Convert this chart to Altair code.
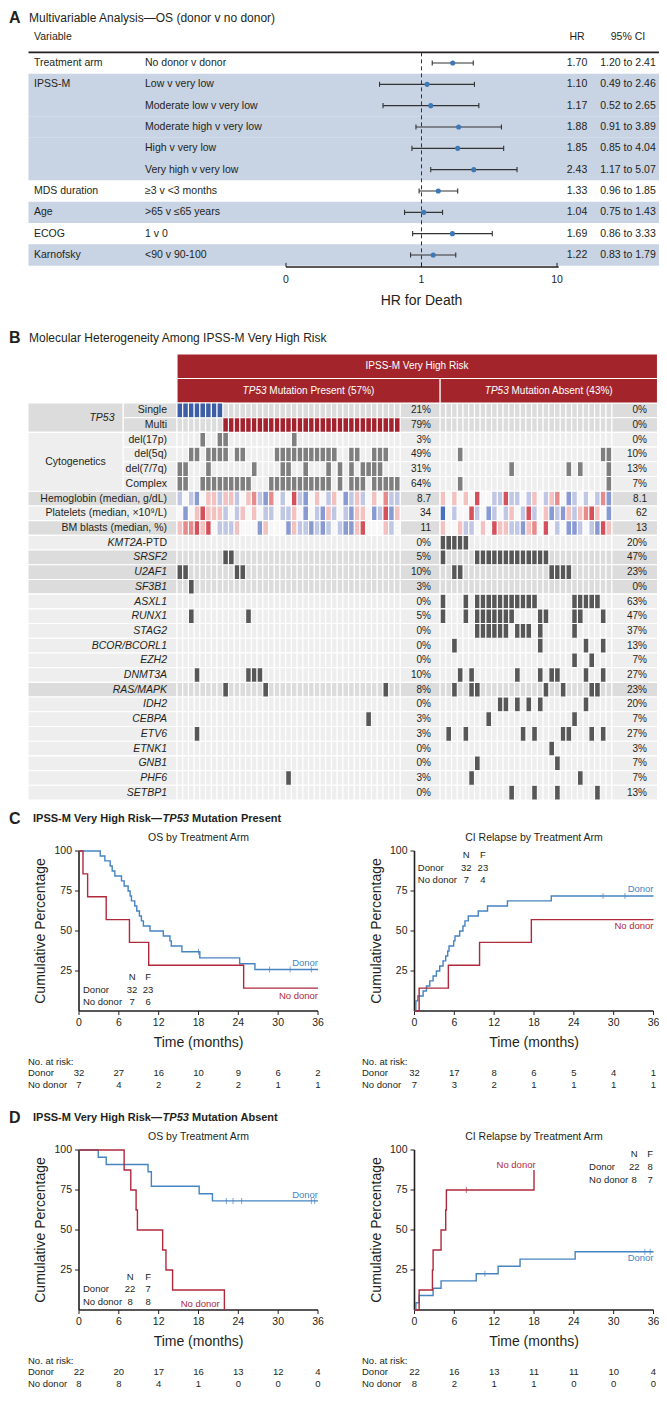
import altair as alt
import pandas as pd

# ============================ DATA ============================
# ---- Panel A: multivariable Cox model ----
forest_var = ["Treatment arm", "IPSS-M", "", "", "", "", "MDS duration", "Age", "ECOG", "Karnofsky"]
forest_cmp = ["No donor v donor", "Low v very low", "Moderate low v very low", "Moderate high v very low",
              "High v very low", "Very high v very low", "≥3 v <3 months", ">65 v ≤65 years", "1 v 0",
              "<90 v 90-100"]
forest_hr = [1.70, 1.10, 1.17, 1.88, 1.85, 2.43, 1.33, 1.04, 1.69, 1.22]
forest_lo = [1.20, 0.49, 0.52, 0.91, 0.85, 1.17, 0.96, 0.75, 0.86, 0.83]
forest_hi = [2.41, 2.46, 2.65, 3.89, 4.04, 5.07, 1.85, 1.43, 3.33, 1.79]
forest_shaded = [0, 1, 1, 1, 1, 1, 0, 1, 0, 1]
forest_ticks = [0.1, 1, 10]
forest_tick_labels = ["0", "1", "10"]

# ---- Panel B: oncoprint ----
row_labels = ["Single", "Multi", "del(17p)", "del(5q)", "del(7/7q)", "Complex",
              "Hemoglobin (median, g/dL)", "Platelets (median, ×10⁹/L)", "BM blasts (median, %)",
              "KMT2A-PTD", "SRSF2", "U2AF1", "SF3B1", "ASXL1", "RUNX1", "STAG2", "BCOR/BCORL1",
              "EZH2", "DNMT3A", "RAS/MAPK", "IDH2", "CEBPA", "ETV6", "ETNK1", "GNB1", "PHF6", "SETBP1"]
row_dark = [1, 1, 0, 0, 0, 0, 1, 0, 1, 0, 1, 1, 1, 0, 0, 0, 0, 0, 0, 1, 0, 0, 0, 0, 0, 0, 0]
row_mut_kind = ["single", "multi", "cyto", "cyto", "cyto", "cyto", None, None, None] + ["gene"] * 18

# patients (columns) carrying each alteration: 39 TP53-present, 30 TP53-absent
hits_present = [
    [0, 1, 2, 3, 4, 5, 6, 7],
    list(range(8, 39)),
    [4, 7, 8, 20],
    [2, 3, 5, 6, 7, 8, 10, 11, 17, 18, 19, 20, 21, 22, 23, 24, 25, 26, 27, 30, 31, 34, 35, 36],
    [0, 1, 5, 13, 18, 19, 22, 26, 28, 30, 32, 33, 34, 35],
    [0, 1, 4, 5, 6, 7, 8, 9, 10, 11, 12, 16, 17, 18, 19, 20, 21, 22, 23, 24, 25, 26, 28, 30, 31, 32,
     34, 35, 36, 37, 38],
    [], [], [],
    [],
    [8, 9],
    [0, 1, 10, 11],
    [2],
    [],
    [2, 12],
    [], [], [],
    [3, 12, 13, 14],
    [8, 15, 36],
    [],
    [33],
    [3],
    [],
    [],
    [19],
    [],
]
hits_absent = [
    [], [], [],
    [3, 28, 29],
    [12, 22, 24, 29],
    [3, 29],
    [], [], [],
    [0, 1, 2, 3, 4],
    [0, 6, 7, 8, 9, 10, 11, 12, 13, 14, 15, 16, 17, 18],
    [2, 3, 19, 20, 21, 22],
    [],
    [0, 4, 6, 7, 8, 9, 10, 11, 12, 13, 14, 15, 16, 23, 24, 25, 26, 27],
    [0, 4, 6, 7, 8, 9, 10, 11, 12, 17, 18, 23, 24, 28],
    [6, 7, 8, 9, 10, 11, 13, 14, 15, 17, 23],
    [2, 17, 25, 28],
    [23, 26],
    [3, 5, 13, 17, 19, 20, 25, 28],
    [2, 5, 6, 18, 21, 26, 27],
    [10, 11, 13, 15, 17, 25],
    [8, 23],
    [1, 4, 14, 16, 21, 22, 26, 28],
    [19],
    [6, 20],
    [5, 24],
    [12, 16, 20, 27],
]
# continuous rows, coded -3 (far below median, blue) .. +3 (far above median, red)
hb_present = [-1, 0, -1, -2, 0, 1, 1, -1, 1, 1, -1, 0, 1, 2, -1, -2, 2, 0, -1, 0, 3, -1, -2, 0, 1, 0,
              -1, 1, 0, -2, -1, 1, -1, 0, 1, 0, 2, -1, -1]
plt_present = [0, -2, 0, 1, 3, 1, 1, 1, -1, 0, -1, 1, 0, 1, 0, -1, -1, 0, -1, -1, 1, 0, -2, 0, -1, -2,
               1, -1, 0, -1, -2, 1, 1, 0, -2, -1, 3, -2, 1]
bm_present = [1, 2, 2, 3, 1, 3, 0, -1, -1, -1, 1, 0, 0, 0, -2, 1, 0, 0, 0, -2, 1, -1, -1, -2, -1, -2,
              -1, 0, -1, -2, -2, 1, 3, 0, 0, 0, 1, -1, 0]
hb_absent = [1, 0, 1, 0, 1, 0, 3, 0, 0, -1, -1, 3, -1, -1, 0, -1, 1, 0, -1, 1, 2, 0, -2, -1, 0, -1, 0,
             -1, 2, -2]
plt_absent = [-3, 0, -1, 0, 0, 3, -1, 0, -2, -1, 0, -1, 1, 0, -1, 3, -1, 0, 1, -2, -1, -2, 1, -1, 1, 2,
              3, 1, 0, -2]
bm_absent = [1, 0, 0, 1, -1, -1, 0, 1, 0, 3, 1, 1, -1, -1, -2, 1, 2, 0, 3, 0, -1, 0, -2, -2, -1, 0, -1,
             -2, 3, 1]
pct_present = ["21%", "79%", "3%", "49%", "31%", "64%", "8.7", "34", "11", "0%", "5%", "10%", "3%", "0%",
               "5%", "0%", "0%", "0%", "10%", "8%", "0%", "3%", "3%", "0%", "0%", "3%", "0%"]
pct_absent = ["0%", "0%", "0%", "10%", "13%", "7%", "8.1", "62", "13", "20%", "47%", "23%", "0%", "63%",
              "47%", "37%", "13%", "7%", "27%", "23%", "20%", "7%", "27%", "3%", "7%", "7%", "13%"]

# ---- Panels C / D: step curves (months, %) ----
c_os_donor_t = [0, 3.2, 3.9, 4.7, 5.0, 5.4, 6.4, 6.8, 7.4, 7.7, 7.9, 8.4, 8.7, 9.1, 9.4, 9.7, 10.7, 12.7,
                13.7, 13.9, 15.5, 18.2, 24.2, 26.5, 36]
c_os_donor_s = [100, 96.9, 93.8, 90.6, 87.5, 84.4, 81.3, 78.1, 75.0, 71.9, 68.8, 65.6, 62.5, 59.4, 56.3,
                53.1, 50.0, 46.9, 43.8, 40.6, 37.0, 33.2, 29.5, 25.9, 25.9]
c_os_nodonor_t = [0, 0.6, 1.3, 4.1, 7.6, 10.5, 24.8, 36]
c_os_nodonor_s = [100, 85.7, 71.4, 57.1, 42.9, 28.6, 14.3, 14.3]
c_os_cens_t = [18.0, 28.7, 31.8, 35.0]
c_os_cens_s = [37.0, 25.9, 25.9, 25.9]

c_ci_donor_t = [0, 0.2, 0.5, 1.3, 1.8, 2.3, 2.8, 3.3, 3.8, 4.3, 4.7, 5.0, 5.2, 5.9, 6.1, 6.8, 7.3, 7.6,
                8.1, 9.6, 11.0, 14.0, 20.6, 36]
c_ci_donor_s = [0, 6.3, 9.4, 12.5, 15.6, 18.8, 21.9, 25.0, 28.1, 31.3, 34.4, 37.5, 40.6, 43.8, 46.9, 50.0,
                53.1, 56.3, 59.4, 62.5, 65.6, 68.8, 71.9, 71.9]
c_ci_nodonor_t = [0, 0.7, 5.1, 9.8, 17.6, 36]
c_ci_nodonor_s = [0, 14.3, 28.6, 42.9, 57.1, 57.1]
c_ci_cens_t = [28.4, 31.7]
c_ci_cens_s = [71.9, 71.9]

d_os_donor_t = [0, 2.9, 4.1, 10.4, 10.9, 18.1, 20.1, 36]
d_os_donor_s = [100, 95.5, 90.9, 86.4, 77.3, 72.7, 68.2, 68.2]
d_os_nodonor_t = [0, 6.8, 7.8, 8.6, 8.8, 12.6, 13.1, 14.1, 21.9]
d_os_nodonor_s = [100, 87.5, 75.0, 62.5, 50.0, 37.5, 25.0, 12.5, 0]
d_os_cens_t = [22.2, 23.2, 24.5, 35.0, 35.5]
d_os_cens_s = [68.2, 68.2, 68.2, 68.2, 68.2]

d_ci_donor_t = [0, 0.2, 0.7, 2.8, 4.0, 9.3, 12.6, 15.9, 24.2, 36]
d_ci_donor_s = [0, 4.5, 9.1, 13.6, 18.2, 22.7, 27.3, 31.8, 36.4, 36.4]
d_ci_nodonor_t = [0, 0.7, 2.7, 2.8, 4.0, 4.7, 4.8, 18.0]
d_ci_nodonor_s = [0, 12.5, 25.0, 37.5, 50.0, 62.5, 75.0, 87.5]
d_ci_cens_d_t = [10.6, 34.7, 35.5]
d_ci_cens_d_s = [22.7, 36.4, 36.4]
d_ci_cens_n_t = [7.8]
d_ci_cens_n_s = [75.0]

risk_times = [0, 6, 12, 18, 24, 30, 36]
c_os_risk_donor = [32, 27, 16, 10, 9, 6, 2]
c_os_risk_nodonor = [7, 4, 2, 2, 2, 1, 1]
c_ci_risk_donor = [32, 17, 8, 6, 5, 4, 1]
c_ci_risk_nodonor = [7, 3, 2, 1, 1, 1, 1]
d_os_risk_donor = [22, 20, 17, 16, 13, 12, 4]
d_os_risk_nodonor = [8, 8, 4, 1, 0, 0, 0]
d_ci_risk_donor = [22, 16, 13, 11, 11, 10, 4]
d_ci_risk_nodonor = [8, 2, 1, 1, 0, 0, 0]

c_os_nf = [32, 23, 7, 6]
c_ci_nf = [32, 23, 7, 4]
d_os_nf = [22, 7, 8, 8]
d_ci_nf = [22, 8, 8, 7]

# ============================ STYLE / LAYOUT ============================
W, H = 651, 1391
M = 8


def c(v):
    return v - M


FONT = "Liberation Sans"
NARROW = "Liberation Sans Narrow, Liberation Sans, Arial, sans-serif"
INK = "#231f20"
BLUE = "#4683c2"
RED = "#b1283b"
one = pd.DataFrame({"k": [0]})


def T(df, **kw):
    p = dict(font=FONT, fontSize=10.5, color=INK, baseline="middle")
    p.update(kw)
    return alt.Chart(df).mark_text(**p)


# ============================ PANEL A ============================
fdf = pd.DataFrame({"row": list(range(10)), "var": forest_var, "cmp": forest_cmp, "hr": forest_hr,
                    "lo": forest_lo, "hi": forest_hi, "shade": forest_shaded})
fdf["y0"] = fdf["row"] - 0.5
fdf["y1"] = fdf["row"] + 0.5
fdf["c0"] = fdf["row"] - 0.12
fdf["c1"] = fdf["row"] + 0.12
fdf["hr_t"] = [f"{v:.2f}" for v in forest_hr]
fdf["ci_t"] = [f"{a:.2f} to {b:.2f}" for a, b in zip(forest_lo, forest_hi)]

sxF = alt.Scale(type="log", domain=[0.1, 10], range=[c(286), c(557)], nice=False)
syF = alt.Scale(domain=[0, 9], range=[c(63), c(255)], nice=False, zero=False)


def xf(f):
    return alt.X(f"{f}:Q", scale=sxF, axis=None)


def yf(f):
    return alt.Y(f"{f}:Q", scale=syF, axis=None)


A = []
A.append(alt.Chart(fdf[fdf["shade"] == 1]).mark_rect(color="#c8d3e4").encode(
    x=alt.value(c(28.5)), x2=alt.value(c(659)), y=yf("y0"), y2="y1"))
A.append(alt.Chart(pd.DataFrame({"y": [-0.5]})).mark_rule(color=INK, strokeWidth=1.6).encode(
    y=yf("y"), x=alt.value(c(28.5)), x2=alt.value(c(659))))
A.append(alt.Chart(pd.DataFrame({"x": [1.0], "a": [-0.5], "b": [9.5]})).mark_rule(
    color="#333333", strokeDash=[4, 3], strokeWidth=1).encode(x=xf("x"), y=yf("a"), y2="b"))
A.append(alt.Chart(fdf).mark_rule(color="#333333", strokeWidth=1.1).encode(x=xf("lo"), x2="hi", y=yf("row")))
A.append(alt.Chart(fdf).mark_rule(color="#333333", strokeWidth=1.1).encode(x=xf("lo"), y=yf("c0"), y2="c1"))
A.append(alt.Chart(fdf).mark_rule(color="#333333", strokeWidth=1.1).encode(x=xf("hi"), y=yf("c0"), y2="c1"))
A.append(alt.Chart(fdf).mark_circle(size=26, color="#3d79b5", opacity=1).encode(x=xf("hr"), y=yf("row")))
A.append(T(fdf, align="left").encode(x=alt.value(c(34)), y=yf("row"), text="var:N"))
A.append(T(fdf, align="left").encode(x=alt.value(c(145)), y=yf("row"), text="cmp:N"))
A.append(T(fdf, align="center").encode(x=alt.value(c(577)), y=yf("row"), text="hr_t:N"))
A.append(T(fdf, align="center").encode(x=alt.value(c(628)), y=yf("row"), text="ci_t:N"))
A.append(T(one, text="Variable", align="left").encode(x=alt.value(c(34)), y=alt.value(c(37))))
A.append(T(one, text="HR", align="center").encode(x=alt.value(c(577)), y=alt.value(c(37))))
A.append(T(one, text="95% CI", align="center").encode(x=alt.value(c(628)), y=alt.value(c(37))))
A.append(alt.Chart(pd.DataFrame({"a": [0.1], "b": [10.3], "y": [9.5625]})).mark_rule(
    color=INK, strokeWidth=1.5).encode(x=xf("a"), x2="b", y=yf("y")))
A.append(alt.Chart(pd.DataFrame({"x": forest_ticks, "ya": [9.37] * 3, "yb": [9.5625] * 3})).mark_rule(
    color=INK, strokeWidth=1).encode(x=xf("x"), y=yf("ya"), y2="yb"))
A.append(T(pd.DataFrame({"x": forest_ticks, "lab": forest_tick_labels}), align="center").encode(
    x=xf("x"), y=alt.value(c(280)), text="lab:N"))
A.append(T(pd.DataFrame({"x": [1.0]}), text="HR for Death", font=NARROW, fontSize=14, align="center").encode(
    x=xf("x"), y=alt.value(c(301))))
A.append(T(one, text="A", fontWeight="bold", fontSize=16, align="left").encode(
    x=alt.value(c(9)), y=alt.value(c(18))))
A.append(T(one, text="Multivariable Analysis—OS (donor v no donor)", fontSize=12, align="left").encode(
    x=alt.value(c(29)), y=alt.value(c(18))))
panelA = alt.layer(*A)

# ============================ PANEL B ============================
UNIT = (657.5 - 177) / 84.0
sxH = alt.Scale(domain=[0, 84], range=[c(177), c(657.5)], nice=False, zero=False)
syH = alt.Scale(domain=[0, 27], range=[c(403), c(800)], nice=False, zero=False)


def xh(f):
    return alt.X(f"{f}:Q", scale=sxH, axis=None)


def yh(f):
    return alt.Y(f"{f}:Q", scale=syH, axis=None)


fillH = alt.Scale(domain=["bg_d", "bg_l", "single", "multi", "cyto", "gene", "hdr"],
                  range=["#dcdcdc", "#eeeeee", "#3d5ea6", "#a3222d", "#7f7f7f", "#575757", "#a3252b"])

LAB0 = (28 - 177) / UNIT
GSPLIT = (123 - 177) / UNIT
rects = []


def add(x0, x1, y0, y1, kind):
    rects.append({"x0": x0, "x1": x1, "y0": y0, "y1": y1, "kind": kind})


for r in range(27):
    bg = "bg_d" if row_dark[r] else "bg_l"
    add(GSPLIT if r < 6 else LAB0, 0, r, r + 1, bg)
    add(39, 46, r, r + 1, bg)
    add(76, 84, r, r + 1, bg)
    for i in range(39):
        add(i, i + 1, r, r + 1, bg)
    for j in range(30):
        add(46 + j, 47 + j, r, r + 1, bg)
add(LAB0, GSPLIT, 0, 2, "bg_d")
add(LAB0, GSPLIT, 2, 6, "bg_l")
add(0, 84, -3.33, -1.67, "hdr")
add(0, 46, -1.67, 0, "hdr")
add(46, 84, -1.67, 0, "hdr")
for r in range(27):
    k = row_mut_kind[r]
    if k is None:
        continue
    for i in hits_present[r]:
        add(i, i + 1, r, r + 1, k)
    for j in hits_absent[r]:
        add(46 + j, 47 + j, r, r + 1, k)
rdf = pd.DataFrame(rects)

cont = []
for r, pv, av in [(6, hb_present, hb_absent), (7, plt_present, plt_absent), (8, bm_present, bm_absent)]:
    for i, v in enumerate(pv):
        cont.append({"x0": i, "x1": i + 1, "y0": r, "y1": r + 1, "val": v})
    for j, v in enumerate(av):
        cont.append({"x0": 46 + j, "x1": 47 + j, "y0": r, "y1": r + 1, "val": v})
cdf = pd.DataFrame(cont)

ldf = pd.DataFrame({"row": list(range(27)), "label": row_labels, "pp": pct_present, "pa": pct_absent})
ldf["ym"] = ldf["row"] + 0.5

B = []
B.append(alt.Chart(rdf).mark_rect(stroke="white", strokeWidth=1.1).encode(
    x=xh("x0"), x2="x1", y=yh("y0"), y2="y1", fill=alt.Fill("kind:N", scale=fillH, legend=None)))
B.append(alt.Chart(cdf).mark_rect(stroke="white", strokeWidth=1.1).encode(
    x=xh("x0"), x2="x1", y=yh("y0"), y2="y1",
    color=alt.Color("val:Q", scale=alt.Scale(domain=[-3, 0, 3], range=["#4a6fc0", "#f7f7f7", "#d4505a"]),
                    legend=None)))
B.append(T(ldf[ldf["row"] <= 8], align="right").encode(x=alt.value(c(167)), y=yh("ym"), text="label:N"))
B.append(T(ldf[ldf["row"] >= 10], align="right", fontStyle="italic").encode(
    x=alt.value(c(167)), y=yh("ym"), text="label:N"))
kd = ldf[ldf["row"] == 9]
B.append(T(kd, text="-PTD", align="right").encode(x=alt.value(c(167)), y=yh("ym")))
B.append(T(kd, text="KMT2A", align="right", fontStyle="italic").encode(x=alt.value(c(142.5)), y=yh("ym")))
B.append(T(pd.DataFrame({"y": [1.0]}), text="TP53", align="center", fontStyle="italic").encode(
    x=alt.value(c(102)), y=yh("y")))
B.append(T(pd.DataFrame({"y": [4.0]}), text="Cytogenetics", align="center").encode(
    x=alt.value(c(75.5)), y=yh("y")))
B.append(T(ldf, align="right", fontSize=10).encode(x=alt.value(c(431)), y=yh("ym"), text="pp:N"))
B.append(T(ldf, align="right", fontSize=10).encode(x=alt.value(c(647)), y=yh("ym"), text="pa:N"))
B.append(T(one, text="IPSS-M Very High Risk", align="center", fontSize=10, color="white").encode(
    x=alt.value(c(417)), y=alt.value(c(366))))
B.append(T(one, text="TP53", align="left", fontSize=10, color="white", fontStyle="italic").encode(
    x=alt.value(c(242.6)), y=alt.value(c(391))))
B.append(T(one, text="Mutation Present (57%)", align="left", fontSize=10, color="white").encode(
    x=alt.value(c(269.3)), y=alt.value(c(391))))
B.append(T(one, text="TP53", align="left", fontSize=10, color="white", fontStyle="italic").encode(
    x=alt.value(c(484.8)), y=alt.value(c(391))))
B.append(T(one, text="Mutation Absent (43%)", align="left", fontSize=10, color="white").encode(
    x=alt.value(c(511.5)), y=alt.value(c(391))))
B.append(T(one, text="B", fontWeight="bold", fontSize=16, align="left").encode(
    x=alt.value(c(9)), y=alt.value(c(338))))
B.append(T(one, text="Molecular Heterogeneity Among IPSS-M Very High Risk", fontSize=12, align="left").encode(
    x=alt.value(c(29)), y=alt.value(c(338))))
panelB = alt.layer(*B).resolve_scale(color="independent", fill="independent")


# ============================ PANELS C / D ============================
def curve_df(pairs):
    rows = []
    for arm, ts, ss in pairs:
        for i, (t, s) in enumerate(zip(ts, ss)):
            rows.append({"arm": arm, "t": t, "s": s, "i": i})
    return pd.DataFrame(rows)


def km(x0, ytop, curves, cens, line_labels, nf, nf_at, risk_d, risk_n, subtitle, tab_x):
    x1 = x0 + 239.0
    ybot = ytop + 160.0
    sx = alt.Scale(domain=[0, 36], range=[c(x0), c(x1)], nice=False, zero=False)
    sy = alt.Scale(domain=[0, 100], range=[c(ybot), c(ytop)], nice=False, zero=False)

    def X(f):
        return alt.X(f"{f}:Q", scale=sx, axis=None)

    def Y(f):
        return alt.Y(f"{f}:Q", scale=sy, axis=None)

    col = alt.Color("arm:N", scale=alt.Scale(domain=["Donor", "No donor"], range=[BLUE, RED]), legend=None)
    L = []
    L.append(alt.Chart(pd.DataFrame({"x": [0], "a": [0], "b": [100]})).mark_rule(
        color=INK, strokeWidth=1.6).encode(x=X("x"), y=Y("a"), y2="b"))
    L.append(alt.Chart(pd.DataFrame({"y": [0], "a": [0], "b": [36]})).mark_rule(
        color=INK, strokeWidth=1.6).encode(y=Y("y"), x=X("a"), x2="b"))
    tdf = pd.DataFrame({"t": risk_times, "z": [0] * len(risk_times), "lab": [str(t) for t in risk_times]})
    L.append(alt.Chart(tdf).mark_rule(color=INK, strokeWidth=1).encode(
        x=X("t"), y=Y("z"), y2=alt.value(c(ybot + 4))))
    vdf = pd.DataFrame({"v": [25, 50, 75, 100], "lab": ["25", "50", "75", "100"]})
    L.append(alt.Chart(vdf).mark_rule(color=INK, strokeWidth=1).encode(
        y=Y("v"), x=alt.value(c(x0 - 4)), x2=alt.value(c(x0))))
    L.append(T(tdf, align="center").encode(x=X("t"), y=alt.value(c(ybot + 12)), text="lab:N"))
    L.append(T(vdf, align="right").encode(y=Y("v"), x=alt.value(c(x0 - 7)), text="lab:N"))
    L.append(T(pd.DataFrame({"t": [18]}), text="Time (months)", font=NARROW, fontSize=14,
               align="center").encode(x=X("t"), y=alt.value(c(ybot + 32))))
    L.append(T(one, text="Cumulative Percentage", font=NARROW, fontSize=14, align="center",
               angle=270).encode(x=alt.value(c(x0 - 38)), y=alt.value(c(ytop + 80))))
    L.append(T(pd.DataFrame({"t": [18]}), text=subtitle, fontSize=10.5, align="center").encode(
        x=X("t"), y=alt.value(c(ytop - 13))))
    L.append(alt.Chart(curve_df(curves)).mark_line(interpolate="step-after", strokeWidth=1.4).encode(
        x=X("t"), y=Y("s"), color=col, order=alt.Order("i:Q")))
    L.append(alt.Chart(curve_df(cens)).mark_tick(orient="vertical", size=6, thickness=1).encode(
        x=X("t"), y=Y("s"), color=col))
    for arm, t, v, al in line_labels:
        L.append(T(pd.DataFrame({"arm": [arm], "t": [t], "v": [v]}), align=al, fontSize=9.5).encode(
            x=X("t"), y=Y("v"), color=col, text="arm:N"))
    tN, tF, tL, vH, vD, vN = nf_at
    L.append(T(pd.DataFrame({"t": [tL, tL], "v": [vD, vN], "lab": ["Donor", "No donor"]}), align="left",
               fontSize=9.5).encode(x=X("t"), y=Y("v"), text="lab:N"))
    L.append(T(pd.DataFrame({"t": [tN, tF, tN, tF, tN, tF], "v": [vH, vH, vD, vD, vN, vN],
                             "lab": ["N", "F"] + [str(n) for n in nf]}), align="center",
               fontSize=9.5).encode(x=X("t"), y=Y("v"), text="lab:N"))
    L.append(T(one, text="No. at risk:", align="left", fontSize=9.5).encode(
        x=alt.value(c(tab_x)), y=alt.value(c(ybot + 51))))
    L.append(T(one, text="Donor", align="left", fontSize=9.5).encode(
        x=alt.value(c(tab_x)), y=alt.value(c(ybot + 62))))
    L.append(T(one, text="No donor", align="left", fontSize=9.5).encode(
        x=alt.value(c(tab_x)), y=alt.value(c(ybot + 74))))
    L.append(T(pd.DataFrame({"t": risk_times, "n": [str(n) for n in risk_d]}), align="center",
               fontSize=9.5).encode(x=X("t"), y=alt.value(c(ybot + 62)), text="n:N"))
    L.append(T(pd.DataFrame({"t": risk_times, "n": [str(n) for n in risk_n]}), align="center",
               fontSize=9.5).encode(x=X("t"), y=alt.value(c(ybot + 74)), text="n:N"))
    return alt.layer(*L)


def panel_title(letter, ypage, rest):
    base = 33.0
    w1 = 129.6
    w2 = 26.3
    sp = 3.1
    return [
        T(one, text=letter, fontWeight="bold", fontSize=16, align="left").encode(
            x=alt.value(c(9)), y=alt.value(c(ypage))),
        T(one, text="IPSS-M Very High Risk—", fontWeight="bold", fontSize=11, align="left").encode(
            x=alt.value(c(base)), y=alt.value(c(ypage))),
        T(one, text="TP53", fontWeight="bold", fontStyle="italic", fontSize=11, align="left").encode(
            x=alt.value(c(base + w1)), y=alt.value(c(ypage))),
        T(one, text=rest, fontWeight="bold", fontSize=11, align="left").encode(
            x=alt.value(c(base + w1 + w2 + sp)), y=alt.value(c(ypage))),
    ]


C1 = km(79, 851,
        [("Donor", c_os_donor_t, c_os_donor_s), ("No donor", c_os_nodonor_t, c_os_nodonor_s)],
        [("Donor", c_os_cens_t, c_os_cens_s)],
        [("Donor", 36, 30.0, "right"), ("No donor", 36, 9.4, "right")],
        c_os_nf, (8.0, 10.4, 0.6, 21.3, 13.1, 5.6),
        c_os_risk_donor, c_os_risk_nodonor, "OS by Treatment Arm", 28)
C2 = km(414.5, 851,
        [("Donor", c_ci_donor_t, c_ci_donor_s), ("No donor", c_ci_nodonor_t, c_ci_nodonor_s)],
        [("Donor", c_ci_cens_t, c_ci_cens_s)],
        [("Donor", 36, 76.3, "right"), ("No donor", 36, 53.1, "right")],
        c_ci_nf, (7.8, 10.3, 0.5, 97.5, 89.4, 81.9),
        c_ci_risk_donor, c_ci_risk_nodonor, "CI Relapse by Treatment Arm", 362)
D1 = km(79, 1150,
        [("Donor", d_os_donor_t, d_os_donor_s), ("No donor", d_os_nodonor_t, d_os_nodonor_s)],
        [("Donor", d_os_cens_t, d_os_cens_s)],
        [("Donor", 36, 71.9, "right"), ("No donor", 21.2, 3.75, "right")],
        d_os_nf, (7.7, 10.4, 0.6, 20.6, 13.1, 5.0),
        d_os_risk_donor, d_os_risk_nodonor, "OS by Treatment Arm", 28)
D2 = km(414.5, 1150,
        [("Donor", d_ci_donor_t, d_ci_donor_s), ("No donor", d_ci_nodonor_t, d_ci_nodonor_s)],
        [("Donor", d_ci_cens_d_t, d_ci_cens_d_s), ("No donor", d_ci_cens_n_t, d_ci_cens_n_s)],
        [("No donor", 15.3, 90.6, "center"), ("Donor", 36, 32.5, "right")],
        d_ci_nf, (33.1, 35.5, 26.3, 97.5, 89.4, 81.3),
        d_ci_risk_donor, d_ci_risk_nodonor, "CI Relapse by Treatment Arm", 362)

titles = alt.layer(*(panel_title("C", 819, "Mutation Present") + panel_title("D", 1118, "Mutation Absent")))

chart = alt.layer(panelA, panelB, C1, C2, D1, D2, titles).resolve_scale(
    x="independent", y="independent", color="independent", fill="independent"
).properties(
    width=W, height=H, padding=0, background="white",
    autosize=alt.AutoSizeParams(type="none")
).configure_view(stroke=None)

chart.save("out.html", embed_options={"renderer": "svg", "actions": False})
